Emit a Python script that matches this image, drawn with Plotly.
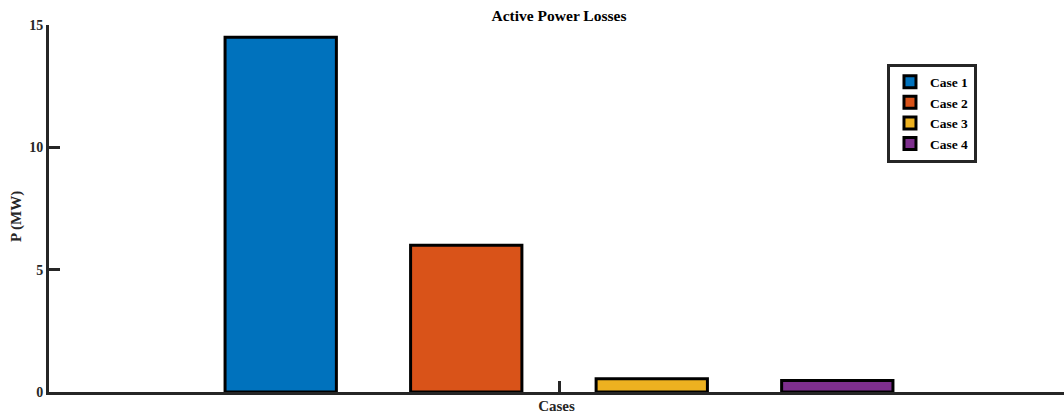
import plotly.graph_objects as go

# Active power losses per case (MW)
cases = ["Case 1", "Case 2", "Case 3", "Case 4"]
losses = [14.5, 6.0, 0.54, 0.47]
colors = ["#0072BD", "#D95319", "#EDB120", "#7E2F8E"]

y_ticks = [0, 5, 10, 15]

# grouped-bar layout: one group centred on x = 0
n = len(cases)
positions = [i - (n - 1) / 2 for i in range(n)]
bar_width = 0.6

FONT = "Liberation Serif"
AXIS = "#262626"

fig = go.Figure()
for name, val, col, pos in zip(cases, losses, colors, positions):
    fig.add_trace(go.Bar(
        x=[pos], y=[val], name=name, width=bar_width,
        marker=dict(color=col, line=dict(color="black", width=3)),
    ))

fig.update_layout(
    width=1064, height=414,
    margin=dict(l=49, r=0, t=25, b=22),
    paper_bgcolor="white", plot_bgcolor="white",
    barmode="overlay",
    font=dict(family=FONT, size=14, color=AXIS, weight="bold"),
    title=dict(text="Active Power Losses", x=(559 - 49) / 1015, xref="paper",
               xanchor="center", y=1 - 16 / 414, yref="container", yanchor="middle",
               font=dict(family=FONT, size=15.5, color="black", weight="bold")),
    showlegend=True,
    legend=dict(x=0.8256, y=0.895, xanchor="left", yanchor="top",
                bgcolor="white", bordercolor=AXIS, borderwidth=3,
                font=dict(family=FONT, size=13.5, color="black", weight="bold"),
                tracegroupgap=0, itemwidth=30),
    annotations=[dict(text="P (MW)", textangle=-90,
                      x=(17 - 49) / 1015, xref="paper", y=(392 - 217) / 367, yref="paper",
                      xanchor="center", yanchor="middle", showarrow=False,
                      font=dict(family=FONT, size=15, color=AXIS, weight="bold"))],
)

fig.update_xaxes(
    range=[-2.749, 2.722], showgrid=False, zeroline=False,
    showline=True, linecolor=AXIS, linewidth=3,
    tickvals=[0], ticktext=[""], ticks="inside", ticklen=11, tickwidth=3, tickcolor=AXIS,
    title=dict(text="Cases", standoff=4, font=dict(family=FONT, size=15, color=AXIS, weight="bold")),
)
fig.update_yaxes(
    range=[0, 15], showgrid=False, zeroline=False,
    showline=True, linecolor=AXIS, linewidth=3,
    tickvals=y_ticks, ticks="inside", ticklen=11, tickwidth=3, tickcolor=AXIS,
    tickfont=dict(family=FONT, size=14, color=AXIS, weight="bold"),
)

fig.write_html("out.html")
